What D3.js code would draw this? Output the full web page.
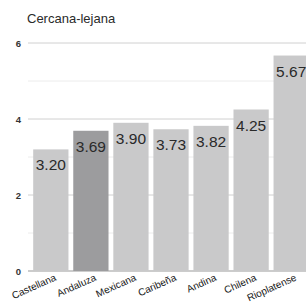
<!DOCTYPE html>
<html>
<head>
<meta charset="utf-8">
<script src="https://cdn.jsdelivr.net/npm/d3@7"></script>
<style>
  body { margin: 0; background: #fff; }
  svg { display: block; font-family: "Liberation Sans", Arial, sans-serif; }
</style>
</head>
<body>
<svg width="306" height="305"></svg>
<script>
// Chart data
const categories = ["Castellana", "Andaluza", "Mexicana", "Caribeña", "Andina", "Chilena", "Rioplatense"];
const values = [3.20, 3.69, 3.90, 3.73, 3.82, 4.25, 5.67];
const highlighted = ["Andaluza"];
const yTicks = [0, 2, 4, 6];
const gridValues = [0, 1, 2, 3, 4, 5, 6];

const width = 306, height = 305;
const margin = {top: 43, right: -6, bottom: 34, left: 28};

const svg = d3.select("svg");

const x = d3.scaleBand()
    .domain(categories)
    .range([margin.left + 2, width - margin.right])
    .paddingInner(0.12)
    .paddingOuter(0.08);

const y = d3.scaleLinear()
    .domain([0, 6])
    .range([height - margin.bottom, margin.top]);

// Title
svg.append("text")
    .attr("x", 27)
    .attr("y", 23)
    .style("font-size", "13px")
    .style("fill", "#2a2a2a")
    .text("Cercana-lejana");

// Gridlines
svg.append("g")
    .selectAll("line")
    .data(gridValues)
    .join("line")
    .attr("x1", margin.left)
    .attr("x2", width)
    .attr("y1", d => y(d))
    .attr("y2", d => y(d))
    .attr("stroke", d => d === 0 ? "#999" : (d % 2 === 0 ? "#d0d0d0" : "#ececec"))
    .attr("stroke-width", 1);

// Y tick labels
svg.append("g")
    .selectAll("text")
    .data(yTicks)
    .join("text")
    .attr("x", 21)
    .attr("y", d => y(d) + 3.5)
    .attr("text-anchor", "end")
    .style("font-size", "9.5px")
    .style("font-weight", "bold")
    .style("fill", "#333")
    .text(d => d);

// Bars
svg.append("g")
    .selectAll("rect")
    .data(categories)
    .join("rect")
    .attr("x", d => x(d))
    .attr("y", (d, i) => y(values[i]))
    .attr("width", x.bandwidth())
    .attr("height", (d, i) => y(0) - y(values[i]))
    .attr("fill", d => highlighted.includes(d) ? "#9c9c9e" : "#c9c9ca");

// Value labels
svg.append("g")
    .selectAll("text")
    .data(categories)
    .join("text")
    .attr("x", d => x(d) + x.bandwidth() / 2)
    .attr("y", (d, i) => y(values[i]) + 21)
    .attr("text-anchor", "middle")
    .style("font-size", "15.5px")
    .style("fill", "#2a2a2a")
    .text((d, i) => values[i].toFixed(2));

// X labels, rotated
svg.append("g")
    .selectAll("text")
    .data(categories)
    .join("text")
    .attr("transform", d => `translate(${x(d) + x.bandwidth() / 2 + 6}, ${y(0) + 9}) rotate(-24)`)
    .attr("text-anchor", "end")
    .style("font-size", "10px")
    .style("fill", "#1a1a1a")
    .text(d => d);
</script>
</body>
</html>
